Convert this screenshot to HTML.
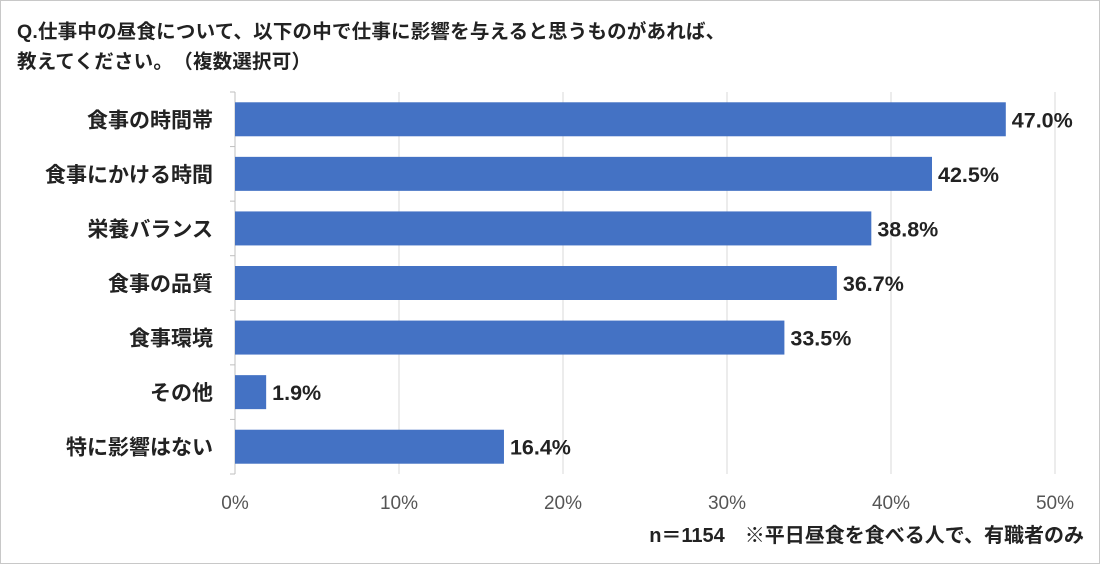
<!DOCTYPE html>
<html><head><meta charset="utf-8"><style>
body{margin:0;background:#fff;}
#wrap{position:relative;width:1098px;height:562px;border:1px solid #c8c8c8;background:#fff;font-family:"Liberation Sans","Noto Sans CJK JP",sans-serif;}
.title{position:absolute;left:16px;font-size:19.5px;letter-spacing:0.2px;font-weight:bold;color:#222;white-space:nowrap;}
</style></head><body>
<div id="wrap">
<div class="title" style="top:14px">Q.仕事中の昼食について、以下の中で仕事に影響を与えると思うものがあれば、</div>
<div class="title" style="top:44px">教えてください。　（複数選択可）</div>
<svg id="chart" width="1100" height="564" style="position:absolute;left:-1px;top:-1px"></svg>
</div>
<script>
const categories=["食事の時間帯","食事にかける時間","栄養バランス","食事の品質","食事環境","その他","特に影響はない"];
const values=[47.0,42.5,38.8,36.7,33.5,1.9,16.4];
const ticks=[0,10,20,30,40,50];
const NS="http://www.w3.org/2000/svg";
const svg=document.getElementById('chart');
const x0=235,x1=1055,yTop=92,yBot=474;
const xs=v=>x0+(v/50)*(x1-x0);
const band=(yBot-yTop)/categories.length;
function mk(t,a,txt){const e=document.createElementNS(NS,t);for(const k in a)e.setAttribute(k,a[k]);if(txt!==undefined)e.textContent=txt;svg.appendChild(e);return e;}
const ff='"Liberation Sans","Noto Sans CJK JP",sans-serif';
ticks.forEach(t=>{
 const g=mk('line',{x1:xs(t),x2:xs(t),y1:yTop,y2:yBot,stroke:t===0?'#bfbfbf':'#d9d9d9','stroke-width':1});
 
 
 const l=mk('text',{x:xs(t),y:509,'text-anchor':'middle','font-size':19,fill:'#555','font-family':ff},t+'%');
 
 
});
for(let i=0;i<=categories.length;i++){
 const tk=mk('line',{x1:x0-5,x2:x0,y1:yTop+i*band,y2:yTop+i*band,stroke:'#bfbfbf'});
 
 
}
categories.forEach((c,i)=>{
 const cy=yTop+band*(i+0.5);
 const b=mk('rect',{x:x0,y:cy-17,width:xs(values[i])-x0,height:34,fill:'#4472c4'});
 
 
 const cl=mk('text',{x:213,y:cy+8,'text-anchor':'end','font-size':21,'font-weight':'bold',fill:'#222','font-family':ff},c);
 
 
 const vl=mk('text',{x:xs(values[i])+6,y:cy+8,'font-size':21.5,'font-weight':'bold',fill:'#222','font-family':ff},values[i].toFixed(1)+'%');
 
 
});
const fn=mk('text',{x:1084,y:542,'text-anchor':'end','font-size':20,'font-weight':'bold',fill:'#222','font-family':ff},'n＝1154　※平日昼食を食べる人で、有職者のみ');


</script>
</body></html>
